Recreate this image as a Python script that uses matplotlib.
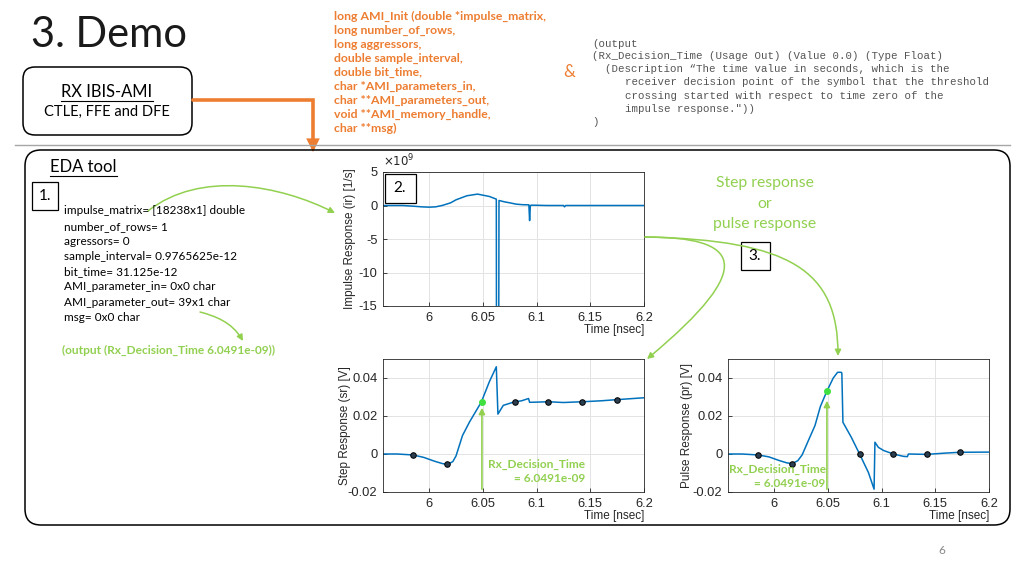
import numpy as np
import matplotlib
matplotlib.use("Agg")
import matplotlib.pyplot as plt
from matplotlib.patches import FancyBboxPatch, FancyArrowPatch, Rectangle
from matplotlib.path import Path

plt.rcParams['axes.unicode_minus'] = False

# ---- data ----
# impulse response, time in ns, value in 1e9 1/s
t_ir = [5.957, 5.975, 5.985, 5.993, 6.0, 6.006, 6.012, 6.02, 6.025, 6.035, 6.045, 6.056,
        6.0625, 6.0628, 6.0645, 6.065, 6.07, 6.075, 6.081, 6.087, 6.0928, 6.0935, 6.0942,
        6.0955, 6.11, 6.125, 6.126, 6.127, 6.2]
ir = [0, 0, -0.1, -0.2, -0.25, -0.2, 0, 0.4, 0.85, 1.45, 1.7, 1.35,
      0.95, -40, -40, 0.75, 0.55, 0.4, 0.2, 0.12, 0.1, -2.25, 0,
      0.05, 0, 0, -0.2, 0, 0]

# step response [V]
t_sr = [5.957, 5.97, 5.985, 5.995, 6.005, 6.012, 6.017, 6.022, 6.025, 6.031, 6.0375,
        6.0485, 6.056, 6.0625, 6.064, 6.069, 6.0797, 6.086, 6.0925, 6.0935, 6.1, 6.111,
        6.125, 6.1425, 6.16, 6.1745, 6.2]
sr = [0, 0, -0.0005, -0.0018, -0.0038, -0.005, -0.0055, -0.004, -0.001, 0.0097, 0.0168,
      0.0273, 0.038, 0.0459, 0.021, 0.0256, 0.0275, 0.028, 0.0292, 0.0272, 0.0273, 0.0275,
      0.0271, 0.0275, 0.028, 0.0286, 0.0296]
t_sr_mk = [5.985, 6.017, 6.0797, 6.111, 6.1425, 6.1745]
sr_mk = [-0.0005, -0.0055, 0.0275, 0.0275, 0.0275, 0.0286]

# pulse response [V]
t_pr = [5.957, 5.97, 5.985, 5.995, 6.005, 6.012, 6.017, 6.022, 6.026, 6.031, 6.038,
        6.043, 6.049, 6.055, 6.059, 6.0625, 6.063, 6.064, 6.0718, 6.0795, 6.0877, 6.093,
        6.0938, 6.097, 6.102, 6.111, 6.12, 6.124, 6.125, 6.142, 6.16, 6.173, 6.2]
pr = [0, 0, -0.0005, -0.0015, -0.0035, -0.0047, -0.005, -0.0035, -0.0005, 0.006, 0.015,
      0.025, 0.033, 0.04, 0.043, 0.043, 0.0425, 0.0167, 0.0088, 0.0, -0.0097, -0.0185,
      0.0062, 0.0035, 0.0018, 0.0, -0.0012, -0.0014, 0.0, -0.0002, 0.0005, 0.0009, 0.001]
t_pr_mk = [5.985, 6.017, 6.0795, 6.111, 6.142, 6.173]
pr_mk = [-0.0005, -0.005, 0, 0, -0.0002, 0.0009]

t_dec = 6.0491
sr_dec = 0.0273
pr_dec = 0.033

xticks = [6, 6.05, 6.1, 6.15, 6.2]
xticklabels = ['6', '6.05', '6.1', '6.15', '6.2']

orange_lines = ["long AMI_Init (double *impulse_matrix,", "long number_of_rows,",
                "long aggressors,", "double sample_interval,", "double bit_time,",
                "char *AMI_parameters_in,", "char **AMI_parameters_out,",
                "void **AMI_memory_handle,", "char **msg)"]
param_lines = ["impulse_matrix= [18238x1] double", "number_of_rows= 1", "agressors= 0",
               "sample_interval= 0.9765625e-12", "bit_time= 31.125e-12",
               "AMI_parameter_in= 0x0 char", "AMI_parameter_out= 39x1 char", "msg= 0x0 char"]

ORANGE = '#ED7D31'
GREEN = '#92D050'
BLUE = '#0072BD'
AXC = '#262626'
W, H = 1024, 576

fig = plt.figure(figsize=(10.24, 5.76), dpi=100)
fig.patch.set_facecolor('white')


def px_axes(l, t, r, b):
    return fig.add_axes([l / W, 1 - b / H, (r - l) / W, (b - t) / H])


def style(ax, ylim, yticks, yticklabels, ylabel, pad):
    ax.set_xlim(5.957, 6.2)
    ax.set_ylim(*ylim)
    ax.set_xticks(xticks)
    ax.set_xticklabels(xticklabels)
    ax.set_yticks(yticks)
    ax.set_yticklabels(yticklabels)
    ax.grid(True, color='#e3e3e3', lw=0.7)
    ax.set_axisbelow(True)
    ax.tick_params(direction='in', length=3, width=0.6, colors=AXC, labelsize=9.3, pad=4)
    for s in ax.spines.values():
        s.set_color(AXC)
        s.set_linewidth(0.6)
    for lab in ax.get_xticklabels() + ax.get_yticklabels():
        lab.set_family('Liberation Sans')
    ax.set_ylabel(ylabel, family='Liberation Sans', fontsize=8.5, color=AXC, labelpad=pad)
    ax.set_xlabel('Time [nsec]', family='Liberation Sans', fontsize=8.5, color=AXC,
                  loc='right', labelpad=0)


# impulse response
ax1 = px_axes(383, 172, 644, 306)
ax1.plot(t_ir, ir, color=BLUE, lw=1.1)
style(ax1, (-15, 5), [-15, -10, -5, 0, 5], ['-15', '-10', '-5', '0', '5'],
      'Impulse Response (ir) [1/s]', 2)
ax1.text(0.0, 1.02, r'$\times10^9$', transform=ax1.transAxes, fontsize=8.5, color=AXC,
         ha='left', va='bottom')

# step response
ax2 = px_axes(383, 359, 644, 492)
ax2.plot(t_sr, sr, color=BLUE, lw=1.1)
ax2.plot(t_sr_mk, sr_mk, 'o', ms=4, mfc='#2b3e50', mec='black', mew=0.7)
ax2.plot([t_dec], [sr_dec], 'o', ms=4, color='#3FE03F')
style(ax2, (-0.02, 0.05), [-0.02, 0, 0.02, 0.04], ['-0.02', '0', '0.02', '0.04'],
      'Step Response (sr) [V]', -2)
ax2.annotate('', xy=(t_dec, sr_dec - 0.0015), xytext=(t_dec, -0.02),
             arrowprops=dict(arrowstyle='-|>', color=GREEN, lw=1.2, mutation_scale=9))
ax2.text(6.145, -0.0093, 'Rx_Decision_Time\n= 6.0491e-09', ha='right', va='center',
         multialignment='right', color=GREEN, fontsize=8.6, family='Lato',
         fontweight='bold', linespacing=1.35)

# pulse response
ax3 = px_axes(728, 359, 989, 492)
ax3.plot(t_pr, pr, color=BLUE, lw=1.1)
ax3.plot(t_pr_mk, pr_mk, 'o', ms=4, mfc='#2b3e50', mec='black', mew=0.7)
ax3.plot([t_dec], [pr_dec], 'o', ms=4, color='#3FE03F')
style(ax3, (-0.02, 0.05), [-0.02, 0, 0.02, 0.04], ['-0.02', '0', '0.02', '0.04'],
      'Pulse Response (pr) [V]', 0)
ax3.annotate('', xy=(t_dec, pr_dec - 0.0035), xytext=(t_dec, -0.02),
             arrowprops=dict(arrowstyle='-|>', color=GREEN, lw=1.2, mutation_scale=9))
ax3.text(6.048, -0.0116, 'Rx_Decision_Time\n= 6.0491e-09', ha='right', va='center',
         multialignment='right', color=GREEN, fontsize=8.6, family='Lato',
         fontweight='bold', linespacing=1.35)

# ---- slide overlay in pixel coordinates ----
ov = fig.add_axes([0, 0, 1, 1])
ov.set_xlim(0, W)
ov.set_ylim(H, 0)
ov.axis('off')

ov.text(31, 35, '3. Demo', fontsize=30, family='Lato', va='center', color='#1a1a1a')

ov.add_patch(FancyBboxPatch((23, 67), 169, 68, boxstyle='round,pad=0,rounding_size=12',
                            fc='white', ec='black', lw=1.1))
ov.text(107, 92, 'RX IBIS-AMI', fontsize=11.9, family='Lato', ha='center', va='center')
ov.plot([61, 153], [101, 101], color='black', lw=0.8)
ov.text(107, 112, 'CTLE, FFE and DFE', fontsize=10.5, family='Lato', ha='center', va='center')

# orange connector
conn = Path([(193, 100), (313, 100), (313, 152)], [Path.MOVETO, Path.LINETO, Path.LINETO])
ov.add_patch(FancyArrowPatch(path=conn, arrowstyle='-|>', color=ORANGE, lw=2.6,
                             mutation_scale=14, joinstyle='miter'))

for i, line in enumerate(orange_lines):
    ov.text(334, 16 + i * 14.1, line, fontsize=8.8, family='Lato', fontweight='bold',
            color=ORANGE, va='center')
ov.text(569, 72, '&', fontsize=12, family='Lato', color=ORANGE, ha='center', va='center')

mono = [(592, 44, '(output'),
        (592, 56, '(Rx_Decision_Time (Usage Out) (Value 0.0) (Type Float)'),
        (605, 69, '(Description \u201cThe time value in seconds, which is the'),
        (625, 82, 'receiver decision point of the symbol that the threshold'),
        (625, 96, 'crossing started with respect to time zero of the'),
        (625, 109, 'impulse response."))'),
        (592, 122, ')')]
for x, y, s in mono:
    ov.text(x, y, s, fontsize=7.75, family='Liberation Mono', color='#555555', va='center')

ov.plot([15, 1010], [145, 145], color='#a6a6a6', lw=1.0)

ov.add_patch(FancyBboxPatch((25, 150), 985, 375, boxstyle='round,pad=0,rounding_size=16',
                            fc='none', ec='black', lw=1.1))
ov.text(50, 167, 'EDA tool', fontsize=12, family='Lato', va='center')
ov.plot([50, 117], [176, 176], color='black', lw=0.8)

ov.add_patch(Rectangle((32, 182), 26, 28, fc='white', ec='black', lw=0.9))
ov.text(45, 196, '1.', fontsize=11, family='Lato', ha='center', va='center')

for i, line in enumerate(param_lines):
    ov.text(64, 211 + i * 15.2, line, fontsize=8.5, family='Lato', va='center')

ov.text(62, 350, '(output (Rx_Decision_Time 6.0491e-09))', fontsize=8.6, family='Lato',
        fontweight='bold', color=GREEN, va='center')

ov.add_patch(Rectangle((385, 174), 31, 29, fc='white', ec='black', lw=0.9))
ov.text(400, 188, '2.', fontsize=11, family='Lato', ha='center', va='center')

ov.add_patch(Rectangle((741, 242), 29, 28, fc='white', ec='black', lw=0.9))
ov.text(755, 256, '3.', fontsize=11, family='Lato', ha='center', va='center')

for i, s in enumerate(['Step response', 'or', 'pulse response']):
    ov.text(765, 183 + i * 20.5, s, fontsize=11.3, family='Lato', color=GREEN,
            ha='center', va='center')

ov.text(942, 550, '6', fontsize=8.5, family='Lato', color='#888888', ha='center', va='center')

# green curved arrows
C4 = [Path.MOVETO, Path.CURVE4, Path.CURVE4, Path.CURVE4]
arrows = [
    [(148, 211), (200, 170), (280, 185), (335, 213)],
    [(200, 312), (215, 316), (232, 322), (243, 341)],
    [(645, 237), (740, 237), (760, 265), (647, 359)],
    [(645, 237), (790, 240), (838, 270), (838, 356)],
]
for pts in arrows:
    ov.add_patch(FancyArrowPatch(path=Path(pts, C4), arrowstyle='-|>', color=GREEN,
                                 lw=1.1, mutation_scale=9))

fig.savefig('out.png', dpi=100, facecolor='white')
